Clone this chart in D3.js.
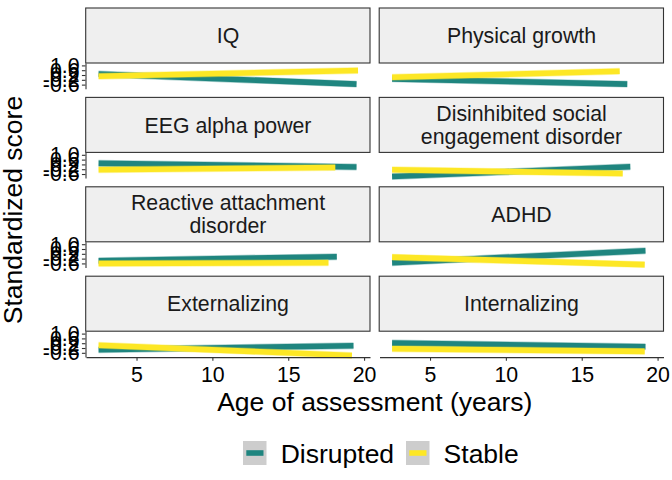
<!DOCTYPE html>
<html><head><meta charset="utf-8">
<script src="https://cdn.jsdelivr.net/npm/d3@7"></script>
<style>
body{margin:0;background:#fff;}
text{font-family:"Liberation Sans",Arial,Helvetica,sans-serif;}
</style></head>
<body><svg id="chart" width="672" height="480"></svg>
<script>
// ---- data ----
const panelNames = ["IQ","Physical growth","EEG alpha power","Disinhibited social engagement disorder",
  "Reactive attachment disorder","ADHD","Externalizing","Internalizing"];
const stripLabels = [["IQ"],["Physical growth"],["EEG alpha power"],["Disinhibited social","engagement disorder"],
  ["Reactive attachment","disorder"],["ADHD"],["Externalizing"],["Internalizing"]];
const groups = ["Disrupted","Stable"];
const groupColors = ["#1F857F","#FDE725"];

// fitted lines: age range and score at start / end of each fit
const disruptedAgeStart = [2.5, 2.5, 2.5, 2.5, 2.5, 2.5, 2.5, 2.5];
const disruptedAgeEnd   = [19.5, 18.0, 19.5, 18.2, 18.2, 19.2, 19.3, 19.2];
const disruptedStart    = [0.28, -0.12, 0.29, -0.81, -0.38, -0.54, -0.35, 0.21];
const disruptedEnd      = [-0.56, -0.56, -0.02, 0.01, -0.04, 0.46, -0.01, -0.10];

const stableAgeStart = [2.5, 2.5, 2.5, 2.5, 2.5, 2.5, 2.5, 2.5];
const stableAgeEnd   = [19.6, 17.5, 18.1, 17.7, 17.65, 19.15, 19.2, 19.15];
const stableStart    = [0.10, 0.01, -0.24, -0.24, -0.61, -0.08, 0.03, -0.26];
const stableEnd      = [0.575, 0.51, -0.06, -0.56, -0.54, -0.70, -0.82, -0.48];

const ciHalf = 0.29; // confidence band half-width (score units)

const xTicks = [5, 10, 15, 20];
const yTicks = [-0.6, -0.2, 0.2, 0.6, 1.0];
const yTickLabels = ["-0.6", "-0.2", "0.2", "0.6", "1.0"];

const xTitle = "Age of assessment (years)";
const yTitle = "Standardized score";

// ---- layout ----
const svg = d3.select("#chart");
const colRange = [[86, 370], [379.5, 663.5]];
const rowTop0 = 63, rowPitch = 89.4, panelH = 25.7, stripH = 55;
const xDomain = [1.67, 20.39];
const yDomain = [-0.94, 1.2];
const FS_SMALL = 21.3, FS_BIG = 26.5;

const series = [
  {a0: disruptedAgeStart, a1: disruptedAgeEnd, v0: disruptedStart, v1: disruptedEnd},
  {a0: stableAgeStart, a1: stableAgeEnd, v0: stableStart, v1: stableEnd}
];

panelNames.forEach((name, i) => {
  const r = Math.floor(i / 2), c = i % 2;
  const T = rowTop0 + r * rowPitch;
  const [x0, x1] = colRange[c];
  const x = d3.scaleLinear().domain(xDomain).range([x0, x1]);
  const y = d3.scaleLinear().domain(yDomain).range([T + panelH, T]);

  // strip
  const g = svg.append("g");
  g.append("rect").attr("x", x0 - 0.3).attr("y", T - stripH).attr("width", x1 - x0 + 0.3).attr("height", stripH)
    .attr("fill", "#EFEFEF").attr("stroke", "#333").attr("stroke-width", 1.1);
  const lines = stripLabels[i];
  const lh = 23;
  lines.forEach((ln, k) => {
    g.append("text").attr("x", (x0 + x1) / 2)
      .attr("y", T - stripH / 2 + (k - (lines.length - 1) / 2) * lh)
      .attr("dy", "0.36em").attr("text-anchor", "middle")
      .attr("font-size", FS_SMALL).attr("fill", "#1A1A1A").text(ln);
  });

  // fits
  series.forEach((s, gi) => {
    const pts = [[s.a0[i], s.v0[i]], [s.a1[i], s.v1[i]]];
    const area = d3.area().x(d => x(d[0])).y0(d => y(d[1] - ciHalf)).y1(d => y(d[1] + ciHalf));
    g.append("path").attr("d", area(pts)).attr("fill", groupColors[gi]).attr("fill-opacity", 0.35);
    const line = d3.line().x(d => x(d[0])).y(d => y(d[1]));
    g.append("path").attr("d", line(pts)).attr("fill", "none").attr("stroke", groupColors[gi])
      .attr("stroke-width", 5.6).attr("stroke-linecap", "butt");
  });

  // y axis for left column
  if (c === 0) {
    const ax = d3.axisLeft(y).tickValues(yTicks).tickFormat((d, k) => yTickLabels[k])
      .tickSize(3.6).tickSizeOuter(0).tickPadding(2.4);
    const ga = svg.append("g").attr("transform", `translate(${x0 - 0.5},0)`).call(ax);
    ga.select(".domain").attr("stroke", "#333").attr("stroke-width", 1.1);
    ga.selectAll(".tick line").attr("stroke", "#333").attr("stroke-width", 1.1);
    ga.selectAll("text").attr("font-size", FS_SMALL).attr("fill", "#000")
      .attr("font-family", "'Liberation Sans',Arial,sans-serif");
  }
  // x axis for bottom row
  if (r === 3) {
    const ax = d3.axisBottom(x).tickValues(xTicks).tickSize(3.6).tickSizeOuter(0).tickPadding(6.1);
    const ga = svg.append("g").attr("transform", `translate(0,${T + panelH + 0.2})`).call(ax);
    ga.select(".domain").attr("stroke", "#333").attr("stroke-width", 1.1);
    ga.selectAll(".tick line").attr("stroke", "#333").attr("stroke-width", 1.1);
    ga.selectAll("text").attr("font-size", FS_SMALL).attr("fill", "#000")
      .attr("font-family", "'Liberation Sans',Arial,sans-serif");
  }
});

// axis titles
svg.append("text").attr("x", (86 + 663.5) / 2).attr("y", 411).attr("text-anchor", "middle")
  .attr("font-size", FS_BIG).attr("fill", "#000").text(xTitle);
svg.append("text").attr("transform", "translate(22,210) rotate(-90)").attr("text-anchor", "middle")
  .attr("font-size", FS_BIG).attr("fill", "#000").text(yTitle);

// legend
const legendKeyX = [243, 406];
const legendTextX = [280.7, 443.6];
groups.forEach((gname, gi) => {
  const kx = legendKeyX[gi], ky = 441;
  svg.append("rect").attr("x", kx).attr("y", ky).attr("width", 23.5).attr("height", 24).attr("fill", "#CDCDCD");
  svg.append("line").attr("x1", kx + 3.3).attr("x2", kx + 20.5).attr("y1", ky + 12).attr("y2", ky + 12)
    .attr("stroke", groupColors[gi]).attr("stroke-width", 5.6);
  svg.append("text").attr("x", legendTextX[gi]).attr("y", 462.5).attr("font-size", FS_BIG).attr("fill", "#000").text(gname);
});
</script></body></html>
